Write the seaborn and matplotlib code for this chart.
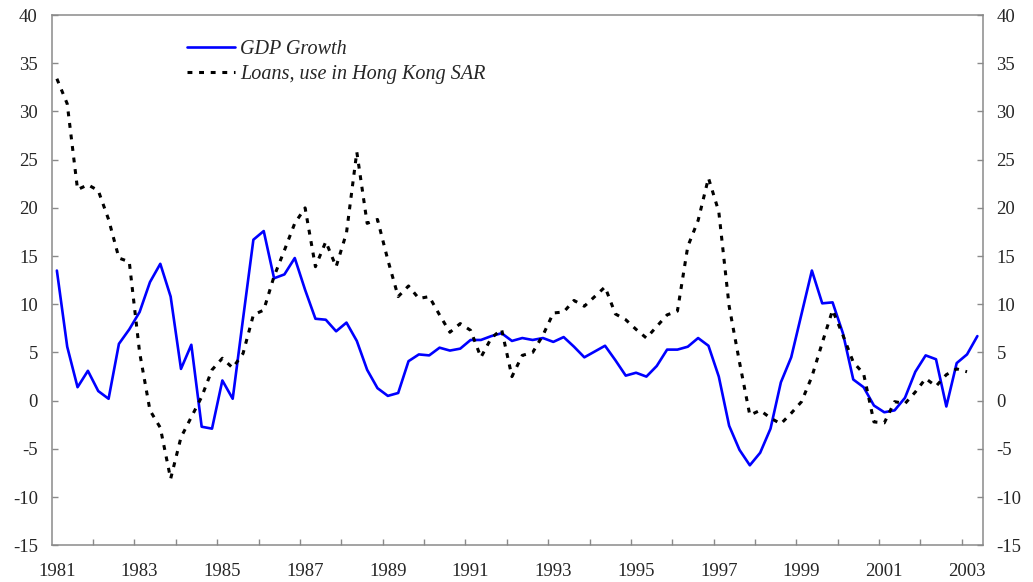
import matplotlib
matplotlib.use("Agg")
import matplotlib.pyplot as plt
import seaborn as sns
import numpy as np
import pandas as pd

# Quarterly data, 1981Q1 onward
gdp_growth = [13.5, 5.6, 1.4, 3.1, 1.0, 0.2, 5.9, 7.4, 9.2, 12.3,
              14.2, 10.8, 3.3, 5.8, -2.7, -2.9, 2.1, 0.2, 8.5, 16.7,
              17.6, 12.7, 13.1, 14.8, 11.5, 8.5, 8.4, 7.2, 8.1, 6.2,
              3.2, 1.3, 0.5, 0.8, 4.1, 4.8, 4.7, 5.5, 5.2, 5.4,
              6.3, 6.3, 6.7, 7.0, 6.2, 6.5, 6.3, 6.5, 6.1, 6.6,
              5.6, 4.5, 5.1, 5.7, 4.2, 2.6, 2.9, 2.5, 3.6, 5.3,
              5.3, 5.6, 6.5, 5.7, 2.5, -2.6, -5.1, -6.7, -5.4, -2.9,
              1.9, 4.5, 9.0, 13.5, 10.1, 10.2, 7.0, 2.2, 1.4, -0.5,
              -1.2, -1.0, 0.3, 3.0, 4.7, 4.3, -0.6, 3.9, 4.8, 6.7]

loans_hk = [33.4, 30.8, 21.9, 22.4, 21.8, 18.8, 14.8, 14.4, 5.0, -1.0,
            -2.8, -8.1, -3.8, -1.7, 0.4, 3.2, 4.4, 3.4, 4.9, 8.9,
            9.4, 12.9, 15.6, 18.4, 20.0, 13.9, 16.5, 13.9, 17.4, 25.8,
            18.4, 18.8, 14.6, 10.8, 11.9, 10.6, 10.8, 8.9, 7.1, 8.0,
            7.3, 4.5, 6.5, 7.4, 2.5, 4.7, 5.0, 6.8, 9.1, 9.2,
            10.4, 9.8, 10.8, 11.8, 9.0, 8.4, 7.4, 6.5, 7.7, 8.9,
            9.3, 16.0, 18.7, 23.1, 19.6, 9.8, 4.0, -1.5, -1.0, -1.8,
            -2.4, -1.3, -0.1, 2.5, 6.0, 9.4, 6.8, 4.0, 2.8, -2.2,
            -2.3, -0.1, -0.3, 0.9, 2.3, 1.5, 2.7, 3.3, 3.0]

year_labels = ["1981", "1983", "1985", "1987", "1989", "1991",
               "1993", "1995", "1997", "1999", "2001", "2003"]
y_ticks = [-15, -10, -5, 0, 5, 10, 15, 20, 25, 30, 35, 40]

sns.set_style("white")
plt.rcParams['font.family'] = ['Liberation Serif', 'DejaVu Serif']

fig = plt.figure(figsize=(10.33, 5.82), dpi=100)
ax = fig.add_axes([0.05005, 0.06306, 0.9011, 0.911])

df_gdp = pd.DataFrame({"q": np.arange(len(gdp_growth)), "v": gdp_growth})
df_loan = pd.DataFrame({"q": np.arange(len(loans_hk)), "v": loans_hk})

sns.lineplot(data=df_gdp, x="q", y="v", ax=ax, color="#0000FF",
             linewidth=1.9, label="GDP Growth")
sns.lineplot(data=df_loan, x="q", y="v", ax=ax, color="black",
             linewidth=2.2, linestyle=(0, (1.6, 2.2)),
             label="Loans, use in Hong Kong SAR")

n = len(gdp_growth)
ax.set_xlim(-0.5, n - 0.5)
ax.set_ylim(-15, 40)
ax.set_xlabel("")
ax.set_ylabel("")

gray = "#8a8a8a"
for s in ax.spines.values():
    s.set_visible(True)
    s.set_color(gray)
    s.set_linewidth(1.1)

ax.set_yticks(y_ticks)
ax.set_yticklabels([str(t) for t in y_ticks])
ax.tick_params(axis="y", which="major", direction="in", length=4.3,
               width=1.0, color=gray, left=True, right=True,
               labelleft=True, labelright=True, labelsize=13.5, pad=10)

ax.set_xticks(np.arange(0, n, 8))
ax.set_xticklabels(year_labels)
ax.set_xticks(np.arange(3.5, n - 1, 4), minor=True)
ax.tick_params(axis="x", which="major", length=0, labelsize=13.5, pad=13)
ax.tick_params(axis="x", which="minor", direction="in", length=4,
               width=1.0, color=gray, bottom=True)

leg = ax.legend(loc="upper left", bbox_to_anchor=(187 / 1033, 1 - 40 / 582),
                bbox_transform=fig.transFigure, frameon=False,
                prop={"style": "italic", "size": 14.5}, handlelength=2.4,
                handletextpad=0.25, labelspacing=0.28, borderpad=0,
                borderaxespad=0)

fig.savefig("out.png", dpi=100)
